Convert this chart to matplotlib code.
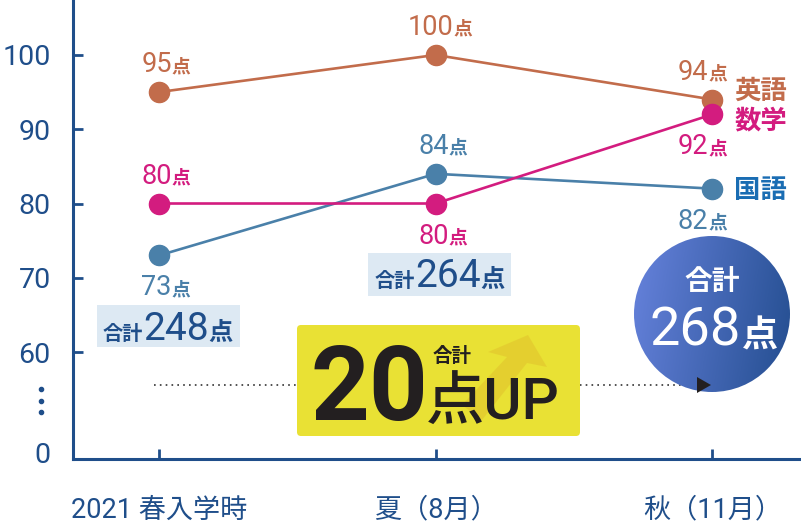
import numpy as np
import matplotlib.pyplot as plt
from matplotlib.patches import Circle, FancyBboxPatch, Rectangle, Polygon
from matplotlib.colors import LinearSegmentedColormap

plt.rcParams['font.family'] = ['Roboto', 'Noto Sans CJK JP', 'DejaVu Sans']

# data
terms = ['2021 春入学時', '夏（8月）', '秋（11月）']
subjects = ['英語', '数学', '国語']
english = [95, 100, 94]
math = [80, 80, 92]
kokugo = [73, 84, 82]
y_ticks = [60, 70, 80, 90, 100]

totals = [sum(t) for t in zip(english, math, kokugo)]
gain = totals[-1] - totals[0]

NAVY = '#1f4e8a'
INK = '#231f20'
col = {'英語': '#c26c4b', '数学': '#d31c7f', '国語': '#4a80a9'}
name_col = {'英語': '#c26c4b', '数学': '#d31c7f', '国語': '#1a6db3'}
order = ['英語', '国語', '数学']  # math drawn on top
# where the value label sits (above / below the dot)
place = {'英語': ['up', 'up', 'up'], '数学': ['up', 'dn', 'dn'], '国語': ['dn', 'up', 'dn']}

PX = 72 / 100  # points per pixel at dpi 100

fig = plt.figure(figsize=(8.01, 5.29), dpi=100)
ax = fig.add_axes([73/801, 1 - 459/529, 1 - 73/801, 459/529])
x = np.arange(len(terms))
ax.set_xlim(-0.31, 2.32)
ax.set_ylim(45.6, 107.4)

for s in ['top', 'right']:
    ax.spines[s].set_visible(False)
for s in ['left', 'bottom']:
    ax.spines[s].set_color(NAVY)
    ax.spines[s].set_linewidth(2.2)

ax.set_yticks([46.5] + y_ticks)
ax.set_yticklabels(['0'] + [str(t) for t in y_ticks])
ax.yaxis.get_major_ticks()[0].tick1line.set_visible(False)
ax.tick_params(axis='y', direction='in', length=7, width=2, color=NAVY,
               labelsize=20.5, labelcolor=NAVY, pad=16)
ax.set_xticks(x)
ax.set_xticklabels(terms)
ax.tick_params(axis='x', direction='in', length=7, width=2, color=NAVY,
               labelsize=19.5, labelcolor=NAVY, pad=27)

data = {'英語': english, '数学': math, '国語': kokugo}
for name in order:
    vals = data[name]
    ax.plot(x, vals, color=col[name], lw=1.9, marker='o', ms=14.5, zorder=3,
            clip_on=False)
    for i, v in enumerate(vals):
        d = str(v)
        split = -4 if i == len(vals) - 1 else 4 + 4.5 * len(d)
        dy = 20 if place[name][i] == 'up' else -40
        ax.annotate(d, (i, v), xytext=(split * PX, dy * PX), textcoords='offset points',
                    ha='right', va='baseline', fontsize=19.5, color=col[name])
        ax.annotate('点', (i, v), xytext=(split * PX, dy * PX), textcoords='offset points',
                    ha='left', va='baseline', fontsize=13.5, fontweight='bold', color=col[name])

# subject names at the right end
name_dy = {'英語': 8, '数学': -7, '国語': -2}
for name in subjects:
    vals = data[name]
    ax.annotate(name, (x[-1], vals[-1]), xytext=(22 * PX, name_dy[name] * PX),
                textcoords='offset points', ha='left', va='center',
                fontsize=19, fontweight='bold', color=name_col[name])

# overlay in pixel coordinates for the decorations
ax2 = fig.add_axes([0, 0, 1, 1])
ax2.patch.set_alpha(0)
ax2.axis('off')

ax2.plot([41, 41, 41], [389, 401, 412], 'o', color=NAVY, ms=3)

# dotted arrow
ax2.plot([154, 697], [385, 385], ls=(0, (1, 2.5)), color='#333333', lw=1.2, zorder=1)
ax2.add_patch(Polygon([(697, 377), (697, 393), (711, 385)], closed=True,
                      facecolor=INK, edgecolor='none', zorder=6))

# total boxes
def total_box(x0, y0, x1, y1, tx, base, total):
    ax2.add_patch(Rectangle((x0, y0), x1 - x0, y1 - y0, facecolor='#dde9f3',
                            edgecolor='none', zorder=2))
    ax2.text(tx, base, '合計', ha='left', va='baseline', fontsize=14.5,
             fontweight='bold', color=NAVY, zorder=3)
    ax2.text(tx + 40, base, str(total), ha='left', va='baseline', fontsize=28,
             color=NAVY, zorder=3)
    ax2.text(tx + 105, base, '点', ha='left', va='baseline', fontsize=17.5,
             fontweight='bold', color=NAVY, zorder=3)

total_box(97, 305, 240, 347, 103, 340, totals[0])
total_box(368, 253, 511, 296, 375, 287, totals[1])

# yellow "UP" box
ax2.add_patch(FancyBboxPatch((297, 325), 283, 111, boxstyle='round,pad=0,rounding_size=4',
                             facecolor='#e9e134', edgecolor='none', zorder=2))
ax2.add_patch(Polygon([(528, 335), (547, 367), (527, 363), (482, 420), (462, 405),
                       (507, 357), (488, 352)], closed=True,
                      facecolor='#e0bf2c', edgecolor='none', alpha=0.5, zorder=3))
ax2.text(311, 420, str(gain), ha='left', va='baseline', fontsize=74,
         fontweight='bold', color=INK, zorder=4)
ax2.text(452, 357, '合計', ha='center', va='center', fontsize=14,
         fontweight='bold', color=INK, zorder=4)
ax2.text(426, 420, '点UP', ha='left', va='baseline', fontsize=42,
         fontweight='medium', color=INK, zorder=4)

# gradient circle with the latest total
cx, cy, r = 712, 314, 78
g = np.linspace(0, 1, 200)
G = g[None, :] * 0.85 + g[:, None] * 0.15
cmap = LinearSegmentedColormap.from_list('blu', ['#6682dc', '#244e90'])
im = ax2.imshow(G, cmap=cmap, extent=(cx - r, cx + r, cy + r, cy - r),
                aspect='auto', zorder=2)
circ = Circle((cx, cy), r, facecolor='none', edgecolor='none')
ax2.add_patch(circ)
im.set_clip_path(circ)
ax2.text(cx, 282, '合計', ha='center', va='center', fontsize=20,
         fontweight='bold', color='white', zorder=4)
ax2.text(741, 345, str(totals[-1]), ha='right', va='baseline', fontsize=39,
         color='white', zorder=4)
ax2.text(742, 347, '点', ha='left', va='baseline', fontsize=26,
         fontweight='bold', color='white', zorder=4)

ax2.set_xlim(0, 801)
ax2.set_ylim(529, 0)

fig.savefig('out.png', dpi=100)
